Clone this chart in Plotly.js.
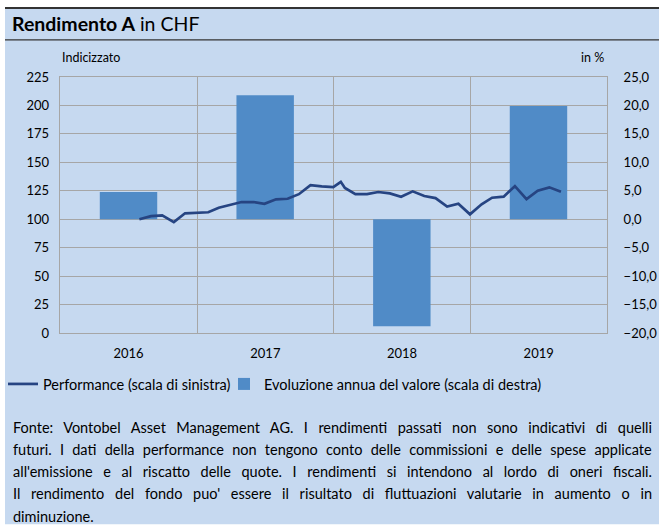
<!DOCTYPE html>
<html>
<head>
<meta charset="utf-8">
<script src="https://cdn.plot.ly/plotly-3.0.1.min.js"></script>
<style>
html,body{margin:0;padding:0;background:#fff;}
#chart{width:661px;height:525px;}
</style>
</head>
<body>
<div id="chart"></div>
<script>
// ---- data ----
const years = ['2016', '2017', '2018', '2019'];
const annualChange = [4.8, 21.8, -18.8, 19.9];   // % (right scale)

const perfDates = [
  '2016-07-31','2016-08-31','2016-09-30','2016-10-31','2016-11-30','2016-12-31',
  '2017-01-31','2017-02-28','2017-03-31','2017-04-30','2017-05-31','2017-06-30',
  '2017-07-31','2017-08-31','2017-09-30','2017-10-31','2017-11-30','2017-12-31',
  '2018-01-20','2018-01-31','2018-02-28','2018-03-31','2018-04-30','2018-05-31','2018-06-30',
  '2018-07-31','2018-08-31','2018-09-30','2018-10-31','2018-11-30','2018-12-31',
  '2019-01-31','2019-02-28','2019-03-31','2019-04-30','2019-05-31','2019-06-30',
  '2019-07-31','2019-08-31'
];
const perfValues = [
  100.0, 102.7, 103.4, 97.5, 105.2, 105.6,
  106.1, 110.1, 112.6, 115.1, 115.1, 113.6,
  117.5, 118.0, 122.0, 130.0, 128.9, 128.3,
  132.9, 127.5, 122.1, 122.1, 123.9, 122.7, 119.8,
  124.5, 120.4, 118.6, 111.2, 113.6, 104.3,
  113.1, 118.9, 119.8, 129.1, 117.7, 125.0,
  128.0, 124.1
];

const leftTicks = [0, 25, 50, 75, 100, 125, 150, 175, 200, 225];
const rightTicks = [-20, -15, -10, -5, 0, 5, 10, 15, 20, 25];

const footerLines = [
  "Fonte: Vontobel Asset Management AG. I rendimenti passati non sono indicativi di quelli",
  "futuri. I dati della performance non tengono conto delle commissioni e delle spese applicate",
  "all'emissione e al riscatto delle quote. I rendimenti si intendono al lordo di oneri fiscali.",
  "Il rendimento del fondo puo' essere il risultato di fluttuazioni valutarie in aumento o in",
  "diminuzione."
];

// ---- geometry helpers ----
const W = 661, H = 525;
const L = 60, R = 607, T = 76.7, B = 333.3;
const px2x = x => (x - L) / (R - L);
const px2y = y => (B - y) / (B - T);

const FONT = 'Lato, "Open Sans", sans-serif';
const BLUE_BG = 'rgb(198,217,240)';
const BAR = 'rgb(80,139,199)';
const LINE = 'rgb(38,68,130)';
const GRID = 'rgb(166,166,166)';

const yearMs = 365.25 * 864e5;
const barX = years.map(y => y + '-07-02');

const traces = [
  {
    type: 'bar',
    x: barX,
    y: annualChange,
    width: annualChange.map(() => 0.42 * yearMs),
    marker: {color: BAR, line: {width: 0}},
    name: 'Evoluzione annua del valore (scala di destra)',
    yaxis: 'y',
    legend: 'legend2',
    hoverinfo: 'skip'
  },
  {
    type: 'scatter',
    mode: 'lines',
    x: perfDates,
    y: perfValues,
    line: {color: LINE, width: 2.7},
    name: 'Performance (scala di sinistra)',
    yaxis: 'y2',
    legend: 'legend',
    hoverinfo: 'skip'
  }
];

const annotations = [
  {text: 'Indicizzato', x: px2x(60), y: px2y(57), xref: 'paper', yref: 'paper',
   xanchor: 'left', yanchor: 'middle', showarrow: false, font: {family: FONT, size: 12.5, color: '#000'}},
  {text: 'in %', x: px2x(606), y: px2y(57), xref: 'paper', yref: 'paper',
   xanchor: 'right', yanchor: 'middle', showarrow: false, font: {family: FONT, size: 12.5, color: '#000'}}
];
const FOOT_START = 2;
footerLines.forEach((t, i) => {
  annotations.push({
    text: t, x: px2x(11), y: px2y(428 + i * 22.2), xref: 'paper', yref: 'paper',
    xanchor: 'left', yanchor: 'middle', showarrow: false, align: 'left',
    font: {family: FONT, size: 14.5, color: '#000'}
  });
});

const legendCommon = {
  orientation: 'h', xref: 'container', yref: 'container',
  y: 1 - 384 / H, xanchor: 'left', yanchor: 'middle',
  bgcolor: 'rgba(0,0,0,0)', font: {family: FONT, size: 14.5, color: '#000'},
  itemwidth: 30
};

const layout = {
  width: W, height: H,
  paper_bgcolor: '#fff',
  plot_bgcolor: BLUE_BG,
  separators: ',.',
  margin: {l: L, r: W - R, t: T, b: H - B, pad: 0},
  showlegend: true,
  legend: Object.assign({}, legendCommon, {x: 3 / W}),
  legend2: Object.assign({}, legendCommon, {x: 224 / W}),
  title: {
    text: '<b>Rendimento A</b> in CHF',
    xref: 'container', yref: 'container', x: 12 / W, xanchor: 'left',
    y: 1 - 24 / H, yanchor: 'middle',
    font: {family: FONT, size: 19.5, color: '#000'}
  },
  xaxis: {
    type: 'date',
    range: ['2016-01-01', '2020-01-01'],
    tick0: '2016-01-01', dtick: 'M12',
    ticklabelmode: 'period', tickformat: '%Y',
    showgrid: true, gridcolor: GRID, gridwidth: 1,
    showline: true, linecolor: GRID, linewidth: 1, mirror: true,
    ticks: '', tickfont: {family: FONT, size: 13, color: '#000'},
    ticklabelstandoff: 8,
    fixedrange: true
  },
  yaxis: {
    range: [-20, 25], tickvals: rightTicks, tickformat: '.1f',
    side: 'right',
    showgrid: true, gridcolor: GRID, gridwidth: 1, zeroline: false,
    showline: true, linecolor: GRID, linewidth: 1, mirror: true,
    ticks: '', tickfont: {family: FONT, size: 13, color: '#000'},
    ticklabelstandoff: 13
  },
  yaxis2: {
    range: [0, 225], tickvals: leftTicks,
    overlaying: 'y', side: 'left',
    showgrid: false, zeroline: false, showline: false,
    ticks: '', tickfont: {family: FONT, size: 13, color: '#000'},
    ticklabelstandoff: 10
  },
  shapes: [
    {type: 'rect', xref: 'paper', yref: 'paper', layer: 'below',
     x0: px2x(5), x1: px2x(659), y0: px2y(8), y1: px2y(525),
     fillcolor: BLUE_BG, line: {width: 0}},
    {type: 'line', xref: 'paper', yref: 'paper',
     x0: px2x(5), x1: px2x(659), y0: px2y(7.5), y1: px2y(7.5),
     line: {color: '#333', width: 2}},
    {type: 'line', xref: 'paper', yref: 'paper',
     x0: px2x(5), x1: px2x(659), y0: px2y(39.5), y1: px2y(39.5),
     line: {color: '#333', width: 1.3}}
  ],
  annotations: annotations
};

const JUSTIFY_RIGHT = 652;
Plotly.newPlot('chart', traces, layout, {staticPlot: true, displayModeBar: false}).then(gd => {
  gd.querySelectorAll('.annotation').forEach(a => {
    const idx = +a.getAttribute('data-index');
    const fi = idx - FOOT_START;
    if (fi < 0 || fi >= footerLines.length - 1) return;
    const t = a.querySelector('text');
    if (!t) return;
    const spaces = (footerLines[fi].match(/ /g) || []).length;
    const r0 = t.getBoundingClientRect();
    const extra = JUSTIFY_RIGHT - r0.right;
    t.style.wordSpacing = (extra / spaces) + 'px';
    const r1 = t.getBoundingClientRect();
    const shift = r0.left - r1.left;
    if (Math.abs(shift) > 0.5) {
      t.setAttribute('x', (parseFloat(t.getAttribute('x')) || 0) + shift);
    }
  });
});
</script>
</body>
</html>
